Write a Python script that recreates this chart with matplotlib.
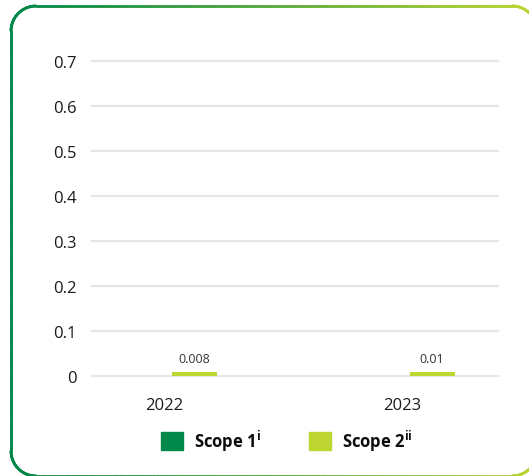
import numpy as np
import matplotlib
matplotlib.use("Agg")
import matplotlib.pyplot as plt
from matplotlib.patches import Patch
from matplotlib.collections import LineCollection
from matplotlib.colors import LinearSegmentedColormap

years   = ["2022", "2023"]
scope1  = [0.0, 0.0]
scope2  = [0.008, 0.01]
labels2 = ["0.008", "0.01"]
yticks  = [0, 0.1, 0.2, 0.3, 0.4, 0.5, 0.6, 0.7]
ytick_labels = ["0", "0.1", "0.2", "0.3", "0.4", "0.5", "0.6", "0.7"]

dark = "#00874a"
lime = "#bdd631"

plt.rcParams['font.family'] = ['Open Sans', 'DejaVu Sans']
plt.rcParams['mathtext.fontset'] = 'custom'
plt.rcParams['mathtext.rm'] = 'Open Sans'
plt.rcParams['mathtext.bf'] = 'Open Sans:bold'

W, H = 529, 477
fig = plt.figure(figsize=(W/100, H/100), dpi=100)

#axes box in pixel terms (top-left origin)
left, right, top, bottom = 92, 498, 62, 377
ax = fig.add_axes([left/W, 1-bottom/H, (right-left)/W, (bottom-top)/H])

x = np.arange(len(years))
bw = 0.189
off = 0.126
ax.bar(x - off, scope1, bw, color=dark, zorder=3)
b2 = ax.bar(x + off, scope2, bw, color=lime, zorder=3)
ax.bar_label(b2, labels=labels2, padding=5, fontsize=9, color="#333333")

ax.set_xlim(-0.3025, 1.403)
ax.set_ylim(0, 0.7)
ax.set_yticks(yticks)
ax.set_yticklabels(ytick_labels)
ax.set_xticks(x)
ax.set_xticklabels(years)
ax.tick_params(axis='y', length=0, pad=11, labelsize=12, labelcolor="#1a1a1a")
ax.tick_params(axis='x', length=0, pad=15, labelsize=12, labelcolor="#1a1a1a")

ax.grid(axis='y', color="#e6e6e6", linewidth=1.6, zorder=0)
for gl in ax.get_ygridlines():
    gl.set_clip_on(False)
ax.set_axisbelow(True)
for s in ax.spines.values():
    s.set_visible(False)

#legend
handles = [Patch(color=dark, label=r'Scope 1$^{\mathbf{i}}$'),
           Patch(color=lime, label=r'Scope 2$^{\mathbf{ii}}$')]
leg = fig.legend(handles=handles, loc='center', bbox_to_anchor=(287/W, 1-441/H),
                 ncol=2, frameon=False, handlelength=1.3, handleheight=1.3,
                 handletextpad=0.65, columnspacing=2.9,
                 prop={'weight': 'bold', 'size': 12})
for t in leg.get_texts():
    t.set_color("#0d0d0d")

#rounded gradient border
bx0, by0, bx1, by1, r = 11, 7, 537, 477, 25
pts = []
def arc(cx, cy, a0, a1):
    t = np.linspace(np.radians(a0), np.radians(a1), 30)
    return list(zip(cx + r*np.cos(t), cy + r*np.sin(t)))
#pixel coords with y downward
pts += arc(bx0+r, by0+r, 180, 270)
pts += [(bx1-r, by0)]
pts += arc(bx1-r, by0+r, 270, 360)
pts += [(bx1, by1-r)]
pts += arc(bx1-r, by1-r, 0, 90)
pts += [(bx0+r, by1)]
pts += arc(bx0+r, by1-r, 90, 180)
pts += [(bx0, by0+r)]
pts = np.array(pts)
#densify
dense = []
for i in range(len(pts)-1):
    a, b = pts[i], pts[i+1]
    n = max(2, int(np.hypot(*(b-a))/3))
    for k in range(n):
        dense.append(a + (b-a)*k/n)
dense.append(pts[-1])
dense = np.array(dense)
fx = dense[:, 0]/W
fy = 1 - dense[:, 1]/H
segs = np.stack([np.column_stack([fx[:-1], fy[:-1]]), np.column_stack([fx[1:], fy[1:]])], axis=1)
cmap = LinearSegmentedColormap.from_list("g", [dark, "#5aab3e", lime])
cvals = (dense[:-1, 0] - bx0)/(bx1 - bx0)
lc = LineCollection(segs, colors=cmap(cvals), linewidths=2.0, transform=fig.transFigure, capstyle='round')
fig.add_artist(lc)

fig.savefig("out.png", dpi=100)
